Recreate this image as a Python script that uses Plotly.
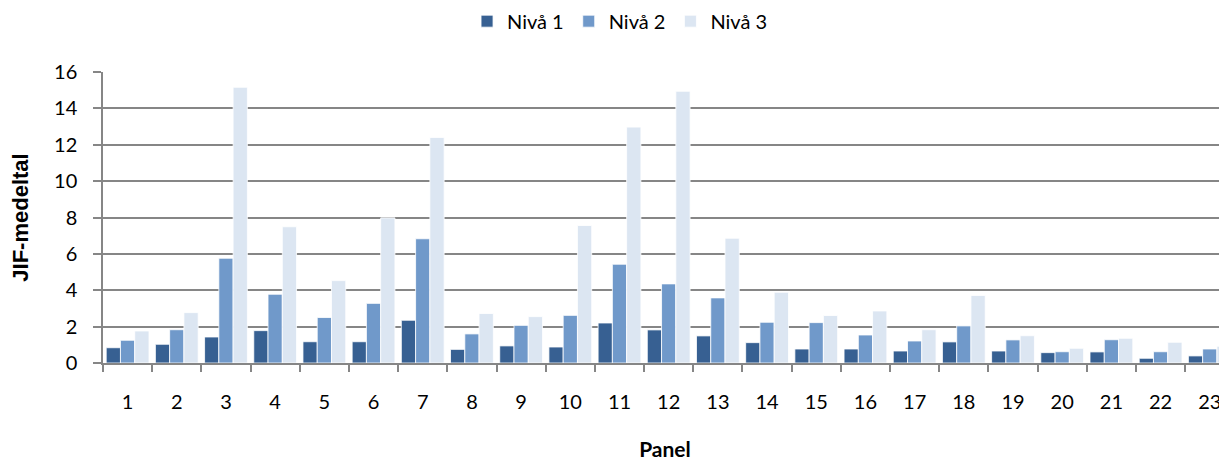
import plotly.graph_objects as go

panels = [str(i) for i in range(1, 24)]
niva1 = [0.84, 1.03, 1.43, 1.78, 1.17, 1.17, 2.35, 0.75, 0.94, 0.88, 2.20, 1.82, 1.49, 1.12, 0.77, 0.77, 0.66, 1.16, 0.66, 0.57, 0.61, 0.26, 0.39]
niva2 = [1.25, 1.83, 5.76, 3.78, 2.50, 3.28, 6.83, 1.60, 2.07, 2.62, 5.43, 4.35, 3.58, 2.24, 2.22, 1.54, 1.21, 2.04, 1.27, 0.62, 1.28, 0.62, 0.77]
niva3 = [1.76, 2.77, 15.16, 7.49, 4.53, 7.98, 12.40, 2.72, 2.55, 7.56, 12.97, 14.94, 6.86, 3.89, 2.61, 2.86, 1.83, 3.71, 1.50, 0.81, 1.36, 1.14, 0.92]

series = [("Nivå 1", niva1, "#376092"), ("Nivå 2", niva2, "#7099CA"), ("Nivå 3", niva3, "#DCE6F2")]

FONT = "Lato"
fig = go.Figure()
for name, vals, col in series:
    fig.add_trace(go.Bar(x=panels, y=vals, name=name, marker=dict(color=col, line=dict(color="white", width=0.8))))

# page body has an 8px margin, so the figure is drawn at (8, 8)
fig.update_layout(
    width=1219, height=454,
    margin=dict(l=95, r=0, t=64, b=99),
    paper_bgcolor="white", plot_bgcolor="white",
    barmode="group", bargap=0.13, bargroupgap=0,
    font=dict(family=FONT, size=20, color="#000000"),
    legend=dict(orientation="h", x=0.4600, xanchor="center", y=0.971, yanchor="middle",
                yref="container", font=dict(size=20), traceorder="normal", itemwidth=30),
    showlegend=True,
)
fig.update_xaxes(
    type="category", range=[-0.5, 22.35], tickson="boundaries",
    ticks="outside", ticklen=7, tickcolor="#868686", tickwidth=1.5,
    showline=True, linecolor="#868686", linewidth=1.5, showgrid=False,
    ticklabelstandoff=20,
    title=dict(text="<b>Panel</b>", font=dict(size=21), standoff=31),
)
fig.update_yaxes(
    range=[0, 16], dtick=2, ticks="outside", ticklen=8, tickcolor="#868686", tickwidth=1.5,
    showline=True, linecolor="#868686", linewidth=1.5,
    showgrid=True, gridcolor="#868686", gridwidth=1.5, zeroline=False,
    ticklabelstandoff=12,
    title=dict(text="<b>JIF-medeltal</b>", font=dict(size=22, family="Liberation Sans"), standoff=22),
)
fig.write_html("out.html")
